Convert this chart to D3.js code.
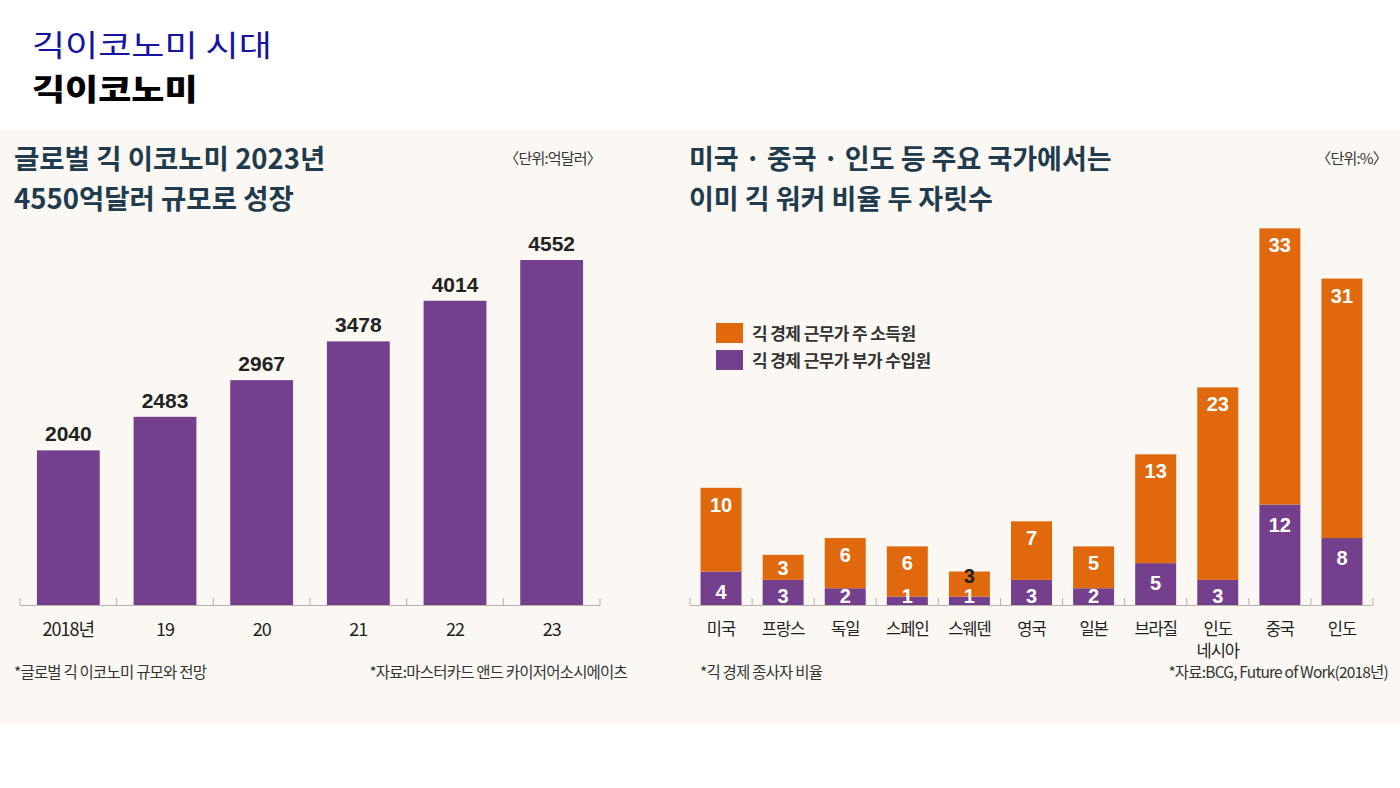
<!DOCTYPE html>
<html>
<head>
<meta charset="utf-8">
<script src="https://cdn.jsdelivr.net/npm/d3@7"></script>
<style>
  body { margin: 0; background: #fff; }
  svg { display: block; }
</style>
</head>
<body>
<script>
// left chart : market size
const years = ["2018년", "19", "20", "21", "22", "23"];
const marketSize = [2040, 2483, 2967, 3478, 4014, 4552];

// right chart : gig worker share
const countries = ["미국", "프랑스", "독일", "스페인", "스웨덴", "영국", "일본", "브라질", "인도네시아", "중국", "인도"];
const mainIncome = [10, 3, 6, 6, 3, 7, 5, 13, 23, 33, 31];
const sideIncome = [4, 3, 2, 1, 1, 3, 2, 5, 3, 12, 8];
const legendNames = ["긱 경제 근무가 주 소득원", "긱 경제 근무가 부가 수입원"];
const darkLabels = ["스웨덴"];

const KR = "'Noto Sans CJK KR', 'Noto Sans', sans-serif";
const NUM = "'Liberation Sans Narrow', 'Arial Narrow', 'Liberation Sans', sans-serif";
const purple = "#743f8c";
const orange = "#e0690d";
const titleColor = "#1f3b4d";

const svg = d3.select("body").append("svg").attr("width", 1400).attr("height", 788);

// page headings (slightly stretched like the original lettering)
svg.append("text").attr("transform", "translate(32,56) scale(1.2,1)").text("긱이코노미 시대")
    .attr("font-family", KR).attr("font-size", 30).attr("fill", "#1414a0");
svg.append("text").attr("transform", "translate(32,100) scale(1.2,1)").text("긱이코노미")
    .attr("font-family", KR).attr("font-size", 30).attr("font-weight", 900).attr("fill", "#000");

// cream panel
svg.append("rect").attr("x", 0).attr("y", 130).attr("width", 1400).attr("height", 594).attr("fill", "#fbf8f3");

function titleLines(x, lines, size) {
    svg.selectAll(null).data(lines).enter().append("text")
        .attr("x", x).attr("y", (d, i) => 169 + i * 40)
        .text(d => d)
        .attr("font-family", KR).attr("font-size", size).attr("font-weight", 700)
        .attr("fill", titleColor);
}
titleLines(14, ["글로벌 긱 이코노미 2023년", "4550억달러 규모로 성장"], 27.5);
titleLines(689, ["미국 · 중국 · 인도 등 주요 국가에서는", "이미 긱 워커 비율 두 자릿수"], 27);

function smallText(x, y, t, anchor, size) {
    return svg.append("text").attr("x", x).attr("y", y).text(t)
        .attr("text-anchor", anchor || "start")
        .attr("font-family", KR).attr("font-size", size || 13)
        .attr("letter-spacing", -0.8).attr("fill", "#333");
}
smallText(601, 164, "〈단위:억달러〉", "end", 15);
smallText(1387, 164, "〈단위:%〉", "end", 15);

const baseY = 605;

// ---------- left chart ----------
const xL = d3.scaleBand().domain(years).range([20, 600]).paddingInner(0.35).paddingOuter(0.175);
const yL = d3.scaleLinear().domain([0, d3.max(marketSize)]).range([baseY, 260]);

function drawAxis(x, r0, r1) {
    svg.append("line").attr("x1", r0).attr("x2", r1).attr("y1", baseY + 0.5).attr("y2", baseY + 0.5)
        .attr("stroke", "#b8b2ab").attr("stroke-width", 1);
    const n = x.domain().length;
    const ticks = d3.range(n + 1).map(i => r0 + i * (r1 - r0) / n);
    svg.selectAll(null).data(ticks).enter().append("line")
        .attr("x1", d => d).attr("x2", d => d).attr("y1", baseY - 7).attr("y2", baseY)
        .attr("stroke", "#b8b2ab");
}

svg.selectAll(null).data(marketSize).enter().append("rect")
    .attr("x", (d, i) => xL(years[i])).attr("width", xL.bandwidth())
    .attr("y", d => yL(d)).attr("height", d => baseY - yL(d))
    .attr("fill", purple);

svg.selectAll(null).data(marketSize).enter().append("text")
    .attr("x", (d, i) => xL(years[i]) + xL.bandwidth() / 2)
    .attr("y", d => yL(d) - 9)
    .attr("text-anchor", "middle").text(d => d)
    .attr("font-family", NUM).attr("font-size", 21).attr("font-weight", 700).attr("fill", "#222");

drawAxis(xL, 20, 600);

svg.selectAll(null).data(years).enter().append("text")
    .attr("x", d => xL(d) + xL.bandwidth() / 2).attr("y", 636)
    .attr("text-anchor", "middle").text(d => d)
    .attr("font-family", KR).attr("font-size", 18).attr("letter-spacing", -1).attr("fill", "#222");

smallText(14, 678, "*글로벌 긱 이코노미 규모와 전망", "start", 15.5);
smallText(627, 678, "*자료:마스터카드 앤드 카이저어소시에이츠", "end", 15.5);

// ---------- right chart ----------
const xR = d3.scaleBand().domain(countries).range([690, 1373]).paddingInner(0.34).paddingOuter(0.17);
const yR = d3.scaleLinear().domain([0, 45]).range([baseY, baseY - 45 * 8.37]);

const rows = countries.map((c, i) => ({ country: c, main: mainIncome[i], side: sideIncome[i] }));
const stacked = d3.stack().keys(["side", "main"])(rows);
const colors = { side: purple, main: orange };

stacked.forEach(layer => {
    svg.selectAll(null).data(layer).enter().append("rect")
        .attr("x", d => xR(d.data.country)).attr("width", xR.bandwidth())
        .attr("y", d => yR(d[1])).attr("height", d => yR(d[0]) - yR(d[1]))
        .attr("fill", colors[layer.key]);
});

stacked.forEach(layer => {
    svg.selectAll(null).data(layer).enter().append("text")
        .attr("x", d => xR(d.data.country) + xR.bandwidth() / 2)
        .attr("y", d => {
            const top = yR(d[1]), bot = yR(d[0]);
            let c;
            if (layer.key === "side") c = Math.min(top + 20, bot - 9);
            else if (darkLabels.includes(d.data.country)) c = top + 4;
            else c = Math.min(top + 17, (top + bot) / 2 + 1);
            return c + 7;
        })
        .attr("text-anchor", "middle").text(d => d.data[layer.key])
        .attr("font-family", NUM).attr("font-size", 20).attr("font-weight", 700)
        .attr("fill", d => (layer.key === "main" && darkLabels.includes(d.data.country)) ? "#222" : "#fff");
});

drawAxis(xR, 690, 1373);

svg.selectAll(null).data(countries).enter().append("text")
    .attr("x", d => xR(d) + xR.bandwidth() / 2).attr("y", 635)
    .attr("text-anchor", "middle")
    .attr("font-family", KR).attr("font-size", 16.5).attr("letter-spacing", -1).attr("fill", "#222")
    .each(function(d) {
        const parts = d === "인도네시아" ? ["인도", "네시아"] : [d];
        d3.select(this).selectAll("tspan").data(parts).enter().append("tspan")
            .attr("x", xR(d) + xR.bandwidth() / 2).attr("dy", (p, i) => i ? 22 : 0).text(p => p);
    });

// legend
svg.selectAll(null).data(legendNames).enter().append("rect")
    .attr("x", 716).attr("y", (d, i) => 323 + i * 27).attr("width", 27).attr("height", 20)
    .attr("fill", (d, i) => i ? purple : orange);
svg.selectAll(null).data(legendNames).enter().append("text")
    .attr("x", 752).attr("y", (d, i) => 340 + i * 27).text(d => d)
    .attr("font-family", KR).attr("font-size", 17).attr("font-weight", 700).attr("letter-spacing", -0.6).attr("fill", "#333");

smallText(700, 678, "*긱 경제 종사자 비율", "start", 15.5);
smallText(1388, 678, "*자료:BCG, Future of Work(2018년)", "end", 15.5);
</script>
</body>
</html>
